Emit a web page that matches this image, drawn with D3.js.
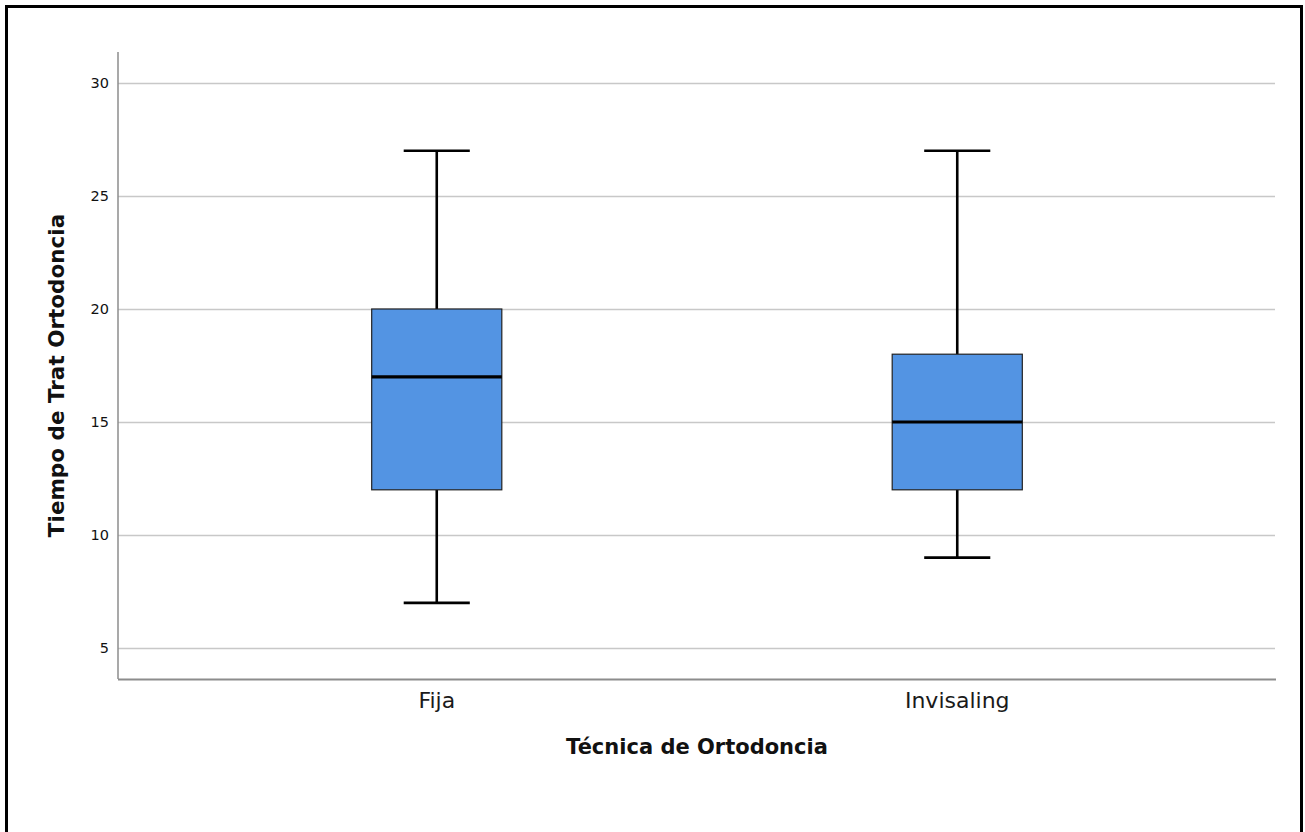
<!DOCTYPE html>
<html><head><meta charset="utf-8">
<script src="https://cdn.jsdelivr.net/npm/d3@7"></script>
<style>
html,body{margin:0;padding:0;background:#fff;}
svg{display:block;}
text{font-family:"DejaVu Sans",Verdana,sans-serif;}
</style></head>
<body>
<svg id="chart" width="1305" height="832"></svg>
<script>
const categories = ["Fija", "Invisaling"];
const whiskerLow = [7, 9];
const q1 = [12, 12];
const median = [17, 15];
const q3 = [20, 18];
const whiskerHigh = [27, 27];
const yTicks = [5, 10, 15, 20, 25, 30];
const xTitle = "Técnica de Ortodoncia";
const yTitle = "Tiempo de Trat Ortodoncia";

(function () {
const svg = d3.select("#chart");
// outer frame
svg.append("rect").attr("x", 6.5).attr("y", 6.5).attr("width", 1295).attr("height", 840)
  .attr("fill", "none").attr("stroke", "#000").attr("stroke-width", 3);

const pl = 118, pr = 1276, pt = 52, pb = 679;
const y = d3.scaleLinear().domain([3.63, 31.37]).range([pb, pt]);
const x = d3.scaleBand().domain(categories).range([pl, pr]).paddingInner(0).paddingOuter(0.1124);

// gridlines
svg.append("g").selectAll("line").data(yTicks).join("line")
  .attr("x1", pl).attr("x2", pr - 1)
  .attr("y1", d => Math.round(y(d)) + 0.5).attr("y2", d => Math.round(y(d)) + 0.5)
  .attr("stroke", "#c8c8c8").attr("stroke-width", 1.3);

// y axis
const yAxis = d3.axisLeft(y).tickValues(yTicks).tickSize(0).tickPadding(9);
const gy = svg.append("g").attr("transform", `translate(${pl},0)`).call(yAxis);
gy.select(".domain").remove();
gy.selectAll("text").attr("font-size", 14.5).attr("fill", "#111");
svg.append("line").attr("x1", pl).attr("x2", pl).attr("y1", pt).attr("y2", pb)
  .attr("stroke", "#8c8c8c").attr("stroke-width", 1.5);

// x axis
const xAxis = d3.axisBottom(x).tickSize(0).tickPadding(13.5);
const gx = svg.append("g").attr("transform", `translate(0,${pb})`).call(xAxis);
gx.select(".domain").remove();
gx.selectAll("text").attr("font-size", 22).attr("fill", "#1a1a1a");
svg.append("line").attr("x1", pl).attr("x2", pr).attr("y1", pb + 0.5).attr("y2", pb + 0.5)
  .attr("stroke", "#8c8c8c").attr("stroke-width", 2);

// boxes
const boxW = x.bandwidth() * 0.25;
const capW = x.bandwidth() * 0.127;
const g = svg.append("g");
categories.forEach((c, i) => {
  const cx = x(c) + x.bandwidth() / 2;
  g.append("line").attr("x1", cx).attr("x2", cx).attr("y1", y(whiskerHigh[i])).attr("y2", y(q3[i]))
    .attr("stroke", "#000").attr("stroke-width", 2.6);
  g.append("line").attr("x1", cx).attr("x2", cx).attr("y1", y(q1[i])).attr("y2", y(whiskerLow[i]))
    .attr("stroke", "#000").attr("stroke-width", 2.6);
  g.append("line").attr("x1", cx - capW / 2).attr("x2", cx + capW / 2).attr("y1", y(whiskerHigh[i])).attr("y2", y(whiskerHigh[i]))
    .attr("stroke", "#000").attr("stroke-width", 2.6);
  g.append("line").attr("x1", cx - capW / 2).attr("x2", cx + capW / 2).attr("y1", y(whiskerLow[i])).attr("y2", y(whiskerLow[i]))
    .attr("stroke", "#000").attr("stroke-width", 2.6);
  g.append("rect").attr("x", cx - boxW / 2).attr("width", boxW)
    .attr("y", y(q3[i])).attr("height", y(q1[i]) - y(q3[i]))
    .attr("fill", "#5394e3").attr("stroke", "#222").attr("stroke-width", 1.2);
  g.append("line").attr("x1", cx - boxW / 2).attr("x2", cx + boxW / 2).attr("y1", y(median[i])).attr("y2", y(median[i]))
    .attr("stroke", "#000").attr("stroke-width", 3.2);
});

// titles
svg.append("text").attr("x", 697).attr("y", 754).attr("text-anchor", "middle")
  .attr("font-size", 21).attr("font-weight", "bold").attr("fill", "#111").text(xTitle);
svg.append("text").attr("transform", "translate(63.5,375.5) rotate(-90)").attr("text-anchor", "middle")
  .attr("font-size", 21.5).attr("font-weight", "bold").attr("fill", "#111").text(yTitle);
})();
</script>
</body></html>
